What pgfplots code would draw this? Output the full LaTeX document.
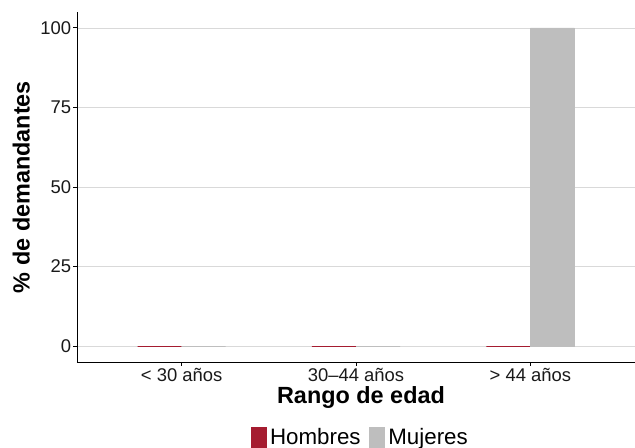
\documentclass[border=0pt]{standalone}
\usepackage{pgfplots}
\pgfplotsset{compat=1.18}
\usepackage{fontspec}
\setmainfont{Liberation Sans}
\definecolor{hombres}{HTML}{A51C30}
\definecolor{mujeres}{HTML}{BEBEBE}
\definecolor{gridc}{HTML}{D9D9D9}
\begin{document}
\begin{tikzpicture}
\path[use as bounding box] (-77bp,-86bp) rectangle (558bp,362bp);
\begin{axis}[
  at={(0,0)}, anchor=south west,
  scale only axis, width=558bp, height=350bp,
  xmin=-0.6, xmax=2.6, ymin=-5, ymax=105,
  axis lines=left,
  axis line style={-, line width=0.9bp, black},
  xtick={0,1,2},
  xticklabels={< 30 años, 30–44 años, > 44 años},
  ytick={0,25,50,75,100},
  /pgf/number format/assume math mode=true,
  tick align=outside,
  major tick length=3.7bp,
  tick style={line width=0.9bp, black},
  ymajorgrids,
  grid style={line width=0.8bp, gridc},
  ticklabel style={font=\fontsize{18.5}{18.5}\selectfont, text=black!90},
  yticklabel style={inner xsep=2bp},
  xticklabel style={inner ysep=2bp},
  xlabel={Rango de edad},
  ylabel={\% de demandantes},
  label style={font=\bfseries\fontsize{23.5}{23.5}\selectfont},
  xlabel style={yshift=0bp, xshift=5bp},
  ylabel style={yshift=5bp},
  ybar=0pt, bar width=44bp,
  legend style={at={(0.509,-0.2143)}, anchor=center, draw=none, legend columns=2,
    font=\fontsize{22.4}{22.4}\selectfont, column sep=0bp,
    nodes={inner xsep=3.5bp, inner ysep=0bp},
    /tikz/every even column/.append style={column sep=5bp}},
  legend image code/.code={\fill[#1] (0bp,-10bp) rectangle (15bp,10bp);},
]
\addplot[fill=hombres, draw=hombres, line width=0.8bp] coordinates {(0,0) (1,0) (2,0)};
\addplot[fill=mujeres, draw=mujeres, line width=0.8bp] coordinates {(0,0) (1,0) (2,100)};
\legend{Hombres, Mujeres}
\end{axis}
\end{tikzpicture}
\end{document}
